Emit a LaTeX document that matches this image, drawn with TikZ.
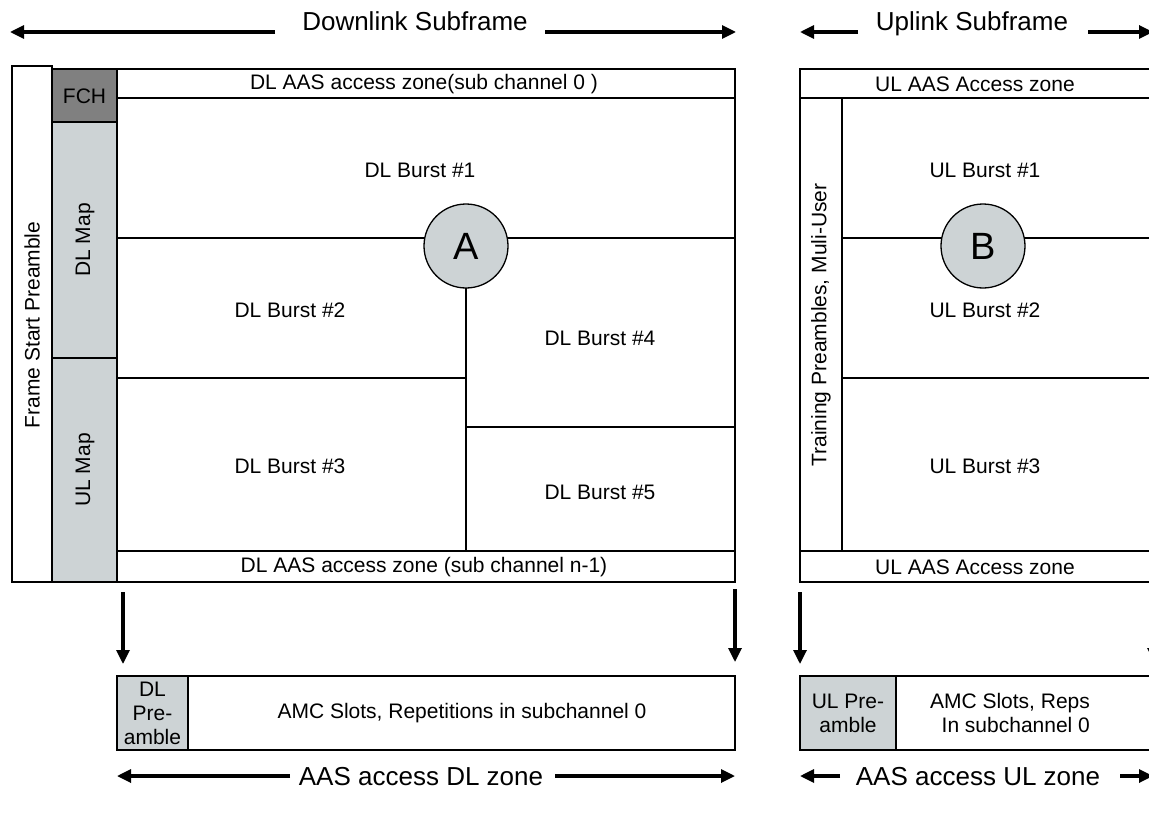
\documentclass[tikz,border=0pt]{standalone}
\usepackage{fontspec}
\setmainfont{Liberation Sans}
\usetikzlibrary{arrows.meta}
\definecolor{lgray}{HTML}{CDD3D5}
\definecolor{dgray}{HTML}{808080}
\begin{document}
\begin{tikzpicture}[x=1pt,y=-1pt,
  lab/.style={font=\fontsize{21}{24}\selectfont, inner sep=0pt},
  ttl/.style={font=\fontsize{26}{30}\selectfont, inner sep=0pt, anchor=base},
  outer/.style={draw=black, line width=2pt},
  inner/.style={draw=black, line width=1.3pt},
  arr/.style={line width=3.2pt, -{Triangle[length=14pt,width=13pt]}},
  circ/.style={circle, draw=black, line width=1.3pt, fill=lgray, minimum size=84pt, inner sep=0pt, font=\fontsize{38}{40}\selectfont}
]
\clip (0,0) rectangle (1149,816);
\fill[white] (0,0) rectangle (1149,816);

% ---------- titles ----------
\node[ttl] (dlt) at (415,31) {Downlink Subframe};
\coordinate (dlL) at (10,32); \coordinate (dlLs) at (275,32);
\coordinate (dlRs) at (545,32); \coordinate (dlR) at (736,32);
\draw[arr] (dlLs) -- (dlL);
\draw[arr] (dlRs) -- (dlR);
\node[ttl] (ult) at (972,31) {Uplink Subframe};
\coordinate (ulL) at (800,32); \coordinate (ulLs) at (858,32);
\coordinate (ulRs) at (1088,32); \coordinate (ulR) at (1153,32);
\draw[arr] (ulLs) -- (ulL);
\draw[arr] (ulRs) -- (ulR);

% ---------- DL frame ----------
\draw[fill=dgray, inner] (52,69) rectangle (117,122);
\node[lab] (fch) at (84.5,96) {FCH};
\draw[fill=lgray, inner] (52,122) rectangle (117,358);
\draw[fill=lgray, inner] (52,358) rectangle (117,582);
\node[lab, rotate=90] (dlmap) at (85,240) {DL Map};
\node[lab, rotate=90] (ulmap) at (85,470) {UL Map};
\draw[outer] (12,66) rectangle (52,582);
\node[lab, rotate=90] (fsp) at (32,325) {Frame Start Preamble};
\draw[outer] (117,69) rectangle (735,582);
\draw[outer] (12,582) -- (117,582);
\draw[inner] (117,98) -- (735,98);
\draw[inner] (117,551) -- (735,551);
\node[lab] (dltop) at (424,84) {DL AAS access zone(sub channel 0 )};
\node[lab] (dlbot) at (424,567) {DL AAS access zone (sub channel n-1)};
\coordinate (hA1) at (117,238); \coordinate (hA2) at (735,238);
\draw[inner] (hA1) -- (hA2);
\coordinate (vA1) at (466,246); \coordinate (vA2) at (466,551);
\draw[inner] (vA1) -- (vA2);
\node[circ] (A) at (466,246) {A};
\draw[inner] (117,378) -- (466,378);
\draw[inner] (466,427) -- (735,427);
\node[lab] (b1) at (420,170) {DL Burst \#1};
\node[lab] (b2) at (290,310) {DL Burst \#2};
\node[lab] (b3) at (290,466) {DL Burst \#3};
\node[lab] (b4) at (600,338) {DL Burst \#4};
\node[lab] (b5) at (600,492) {DL Burst \#5};

% ---------- UL frame ----------
\draw[outer] (800,69) rectangle (1170,582);
\draw[inner] (800,98) -- (1170,98);
\draw[inner] (800,551) -- (1170,551);
\draw[inner] (842,98) -- (842,551);
\node[lab] (ultop) at (975,84) {UL AAS Access zone};
\node[lab] (ulbot) at (975,567) {UL AAS Access zone};
\node[lab, rotate=90] (tp) at (821,325) {Training Preambles, Muli-User};
\coordinate (hB1) at (842,238); \coordinate (hB2) at (1170,238);
\draw[inner] (hB1) -- (hB2);
\node[circ] (B) at (983,246) {B};
\draw[inner] (842,378) -- (1170,378);
\node[lab] (u1) at (985,170) {UL Burst \#1};
\node[lab] (u2) at (985,310) {UL Burst \#2};
\node[lab] (u3) at (985,466) {UL Burst \#3};

% ---------- down arrows ----------
\coordinate (d1s) at (123,592); \coordinate (d1e) at (123,664);
\coordinate (d2s) at (735,589); \coordinate (d2e) at (735,662);
\coordinate (d3s) at (800,592); \coordinate (d3e) at (800,664);
\coordinate (d4s) at (1154,589); \coordinate (d4e) at (1154,662);
\draw[arr] (d1s) -- (d1e);
\draw[arr] (d2s) -- (d2e);
\draw[arr] (d3s) -- (d3e);
\draw[arr] (d4s) -- (d4e);

% ---------- bottom boxes ----------
\draw[fill=lgray, outer] (117,676) rectangle (188,750);
\node[lab, align=center] (dlpre) at (152.5,713) {DL\\Pre-\\amble};
\draw[outer] (188,676) rectangle (735,750);
\node[lab] (amc1) at (462,713) {AMC Slots, Repetitions in subchannel 0};
\draw[fill=lgray, outer] (800,676) rectangle (896,750);
\node[lab, align=center] (ulpre) at (848,713) {UL Pre-\\amble};
\draw[outer] (896,676) rectangle (1170,750);
\node[lab, align=right] (amc2) at (1010,713) {AMC Slots, Reps\\In subchannel 0};

% ---------- bottom arrows ----------
\node[ttl] (dlz) at (421,785) {AAS access DL zone};
\coordinate (bl1) at (117,776); \coordinate (bl1s) at (290,776);
\coordinate (br1s) at (555,776); \coordinate (br1) at (735,776);
\draw[arr] (bl1s) -- (bl1);
\draw[arr] (br1s) -- (br1);
\node[ttl] (ulz) at (978,785) {AAS access UL zone};
\coordinate (bl2) at (800,776); \coordinate (bl2s) at (840,776);
\coordinate (br2s) at (1120,776); \coordinate (br2) at (1153,776);
\draw[arr] (bl2s) -- (bl2);
\draw[arr] (br2s) -- (br2);
\end{tikzpicture}
\end{document}
